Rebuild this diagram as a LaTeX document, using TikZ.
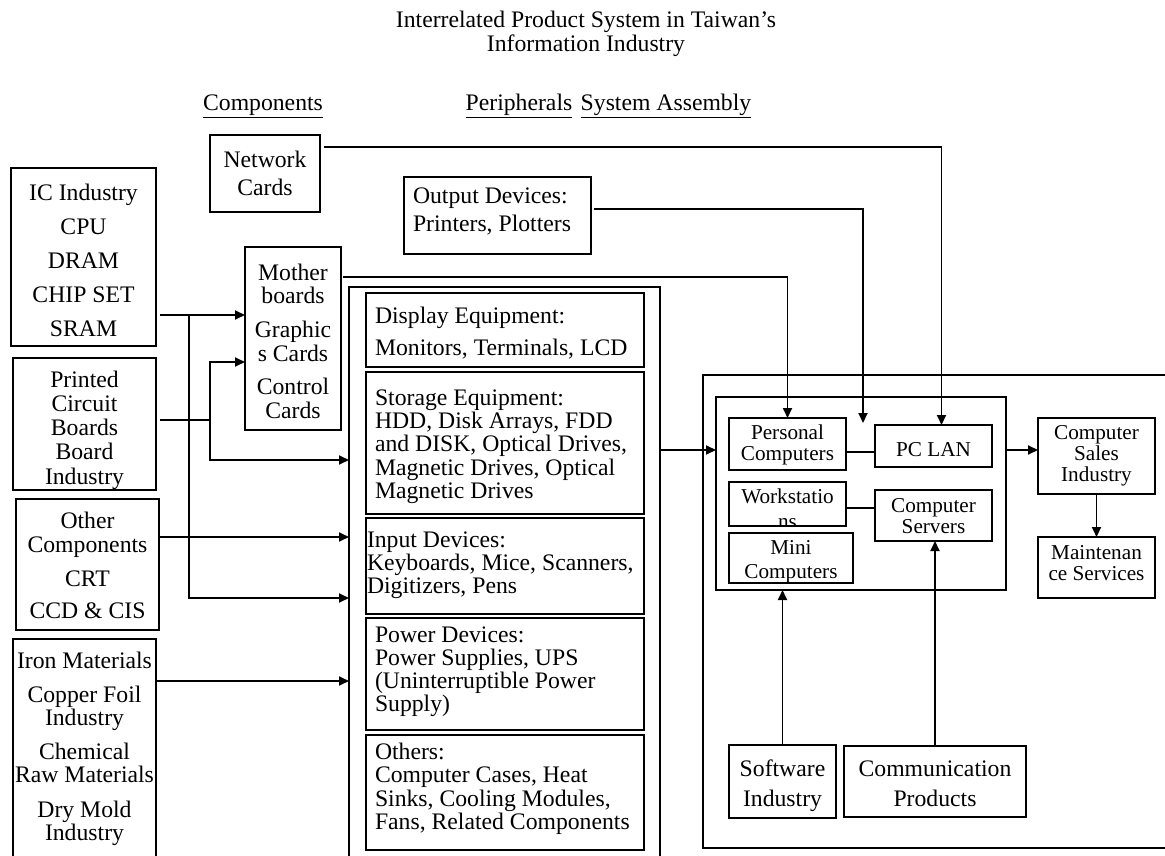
\documentclass[tikz,border=0pt]{standalone}
\usepackage{fontspec}
\setmainfont{Liberation Serif}
\usetikzlibrary{arrows.meta}
% fixed cap height for the first line of a label, so its top edge is predictable
\newcommand\capht{\rule{0pt}{0.72em}}
\begin{document}
\begin{tikzpicture}[x=1pt,y=-1pt,
  box/.style={draw, line width=1.8pt, rectangle, inner sep=0pt, outer sep=0pt},
  lbl/.style={inner sep=0pt, outer sep=0pt, align=center, font=\fontsize{23.7}{23.5}\selectfont},
  lbll/.style={lbl, align=left, anchor=north west},
  sml/.style={inner sep=0pt, outer sep=0pt, align=center, font=\fontsize{21.2}{21}\selectfont},
  conn/.style={line width=1.8pt},
  arr/.style={conn, -{Triangle[length=10pt,width=9pt]}}]
\useasboundingbox (0,0) rectangle (1165,856);
\clip (0,0) rectangle (1165,856);
\fill[white] (0,0) rectangle (1165,856);

% title and column headings
\node[lbl, anchor=north, font=\fontsize{23.7}{24}\selectfont] (title) at (586,10)
  {\capht Interrelated Product System in Taiwan’s\\Information Industry};
\node[lbl, anchor=base] (hcomp) at (263,111) {\underline{Components}};
\node[lbl, anchor=base] (hper) at (519,111) {\underline{Peripherals}};
\node[lbl, anchor=base] (hsys) at (666,111) {\underline{System Assembly}};

% components column
\node[box, minimum width=110, minimum height=77] (net) at (265,173.5) {};
\node[box, minimum width=145, minimum height=178] (ic) at (83.5,257) {};
\node[box, minimum width=143, minimum height=132] (pcb) at (84.5,424) {};
\node[box, minimum width=143, minimum height=131] (oth) at (87.5,564.5) {};
\node[box, minimum width=143, minimum height=219] (iron) at (84.5,748.5) {};
\node[box, minimum width=96, minimum height=183] (mb) at (293,338.5) {};

\node[lbl, anchor=north, font=\fontsize{23.7}{28}\selectfont] (net-t) at (265,150) {\capht Network\\Cards};
\node[lbl, anchor=north, font=\fontsize{23.7}{34}\selectfont] (ic-t) at (83.5,183)
  {\capht IC Industry\\CPU\\DRAM\\CHIP SET\\SRAM};
\begin{scope}
  \clip (pcb.north west) rectangle (pcb.south east);
  \node[lbl, anchor=north, font=\fontsize{23.7}{24.3}\selectfont] (pcb-t) at (84.5,370)
    {\capht Printed\\Circuit\\Boards\\Board\\Industry};
\end{scope}
\node[lbl, anchor=north, font=\fontsize{23.7}{24}\selectfont] (oth-t) at (87.5,511)
  {\capht Other\\Components\\[10pt]CRT\\[8pt]CCD \& CIS};
\node[lbl, anchor=north] (iron-t) at (84.5,651)
  {\capht Iron Materials\\[10.5pt]Copper Foil\\Industry\\[10pt]Chemical\\Raw Materials\\[11pt]Dry Mold\\Industry};
\node[lbl, anchor=north] (mb-t) at (293,263)
  {\capht Mother\\boards\\[10.5pt]Graphic\\s Cards\\[10pt]Control\\Cards};

% peripherals column
\node[box, minimum width=187, minimum height=77] (out) at (497.5,215.5) {};
\node[box, minimum width=311, minimum height=583] (per) at (504.5,578.5) {};
\node[box, minimum width=278, minimum height=74] (disp) at (505,330) {};
\node[box, minimum width=278, minimum height=142] (stor) at (505,443) {};
\node[box, minimum width=278, minimum height=96] (inp) at (505,566) {};
\node[box, minimum width=278, minimum height=112] (pow) at (505,674) {};
\node[box, minimum width=278, minimum height=115] (oths) at (505,792.5) {};

\node[lbll, font=\fontsize{23.7}{28}\selectfont] (out-t) at (413,186) {\capht Output Devices:\\Printers, Plotters};
\node[lbll, font=\fontsize{23.7}{32}\selectfont] (disp-t) at (375,306) {\capht Display Equipment:\\Monitors, Terminals, LCD};
\node[lbll, font=\fontsize{23.7}{23.4}\selectfont] (stor-t) at (375,388)
  {\capht Storage Equipment:\\HDD, Disk Arrays, FDD\\and DISK, Optical Drives,\\Magnetic Drives, Optical\\Magnetic Drives};
\node[lbll, font=\fontsize{23.7}{23.4}\selectfont] (inp-t) at (367,530)
  {\capht Input Devices:\\Keyboards, Mice, Scanners,\\Digitizers, Pens};
\node[lbll, font=\fontsize{23.7}{23.2}\selectfont] (pow-t) at (375,625)
  {\capht Power Devices:\\Power Supplies, UPS\\(Uninterruptible Power\\Supply)};
\node[lbll, font=\fontsize{23.7}{23.6}\selectfont] (oths-t) at (375,742)
  {\capht Others:\\Computer Cases, Heat\\Sinks, Cooling Modules,\\Fans, Related Components};

% system assembly column
\node[box, minimum width=472, minimum height=473] (sys) at (939,611.5) {};
\node[box, minimum width=290, minimum height=193] (inner) at (861,493.5) {};
\node[box, minimum width=117, minimum height=52] (pc) at (787.5,444) {};
\node[box, minimum width=117, minimum height=42] (lan) at (933.5,446) {};
\node[box, minimum width=117, minimum height=44] (ws) at (787.5,504) {};
\node[box, minimum width=117, minimum height=51] (srv) at (933.5,515.5) {};
\node[box, minimum width=124, minimum height=50] (mini) at (791,558) {};
\node[box, minimum width=117, minimum height=76] (sales) at (1096.5,456) {};
\node[box, minimum width=117, minimum height=61] (maint) at (1096.5,567.5) {};
\node[box, minimum width=107, minimum height=73] (soft) at (782.5,781.5) {};
\node[box, minimum width=182, minimum height=71] (comm) at (935,781.5) {};

\node[sml, anchor=north] (pc-t) at (787.5,424.7) {\capht Personal\\Computers};
\node[sml, anchor=base] (lan-t) at (933.5,456.7) {PC LAN};
\begin{scope}
  \clip (ws.north west) rectangle (ws.south east);
  \node[sml, anchor=north, font=\fontsize{21.2}{24.5}\selectfont] (ws-t) at (787.5,488.7) {\capht Workstatio\\ns};
\end{scope}
\node[sml, anchor=north] (srv-t) at (933.5,497.4) {\capht Computer\\Servers};
\begin{scope}
  \clip (mini.north west) rectangle (mini.south east);
  \node[sml, anchor=north, font=\fontsize{21.2}{24}\selectfont] (mini-t) at (791,539.7) {\capht Mini\\Computers};
\end{scope}
\node[sml, anchor=north] (sales-t) at (1096.5,424) {\capht Computer\\Sales\\Industry};
\node[sml, anchor=north] (maint-t) at (1096.5,544) {\capht Maintenan\\ce Services};
\node[lbl, anchor=north, font=\fontsize{23.7}{30}\selectfont] (soft-t) at (782.5,759.6) {\capht Software\\Industry};
\node[lbl, anchor=north, font=\fontsize{23.7}{30}\selectfont] (comm-t) at (935,759.6) {\capht Communication\\Products};

% connectors
\coordinate (flow) at (0,450);
\coordinate (prn) at (863,423);
\draw[arr] ([shift={(4,12)}]net.north east) -| ([shift={(8,0)}]lan.north);
\draw[arr] ([shift={(3,32)}]out.north east) -| (prn);
\draw[arr] ([shift={(2,30)}]mb.north east) -| (pc.north);

\coordinate (icA) at ([shift={(4,-31)}]ic.south east);
\coordinate (icB) at ([shift={(29,0)}]icA);
\coordinate (icC) at (189,598);
\draw[arr] (icA) -- (icA -| mb.west);
\draw[arr] (icB) -- (icC) -- (icC -| per.west);

\coordinate (pcA) at (160,420);
\coordinate (pcB) at (210,420);
\coordinate (pcUp) at (210,362);
\coordinate (pcDn) at (210,460);
\draw[conn] (pcA) -- (pcB);
\draw[arr] (pcB) -- (pcUp) -- (pcUp -| mb.west);
\draw[arr] (pcB) -- (pcDn) -- (pcDn -| per.west);

\coordinate (othA) at ([shift={(1,-27.5)}]oth.east);
\draw[arr] (othA) -- (othA -| per.west);
\coordinate (ironA) at ([shift={(0,-67.5)}]iron.east);
\draw[arr] (ironA) -- (ironA -| per.west);

\draw[arr] (per.east |- flow) -- (inner.west |- flow);
\draw[arr] (inner.east |- flow) -- (sales.west |- flow);
\draw[arr] (sales.south) -- (maint.north);
\draw[arr] (soft.north) -- (soft.north |- inner.south);
\draw[arr] (comm.north) -- (comm.north |- srv.south);
\draw[conn] ([shift={(0,8)}]pc.east) -- ([shift={(0,8)}]pc.east -| lan.west);
\draw[conn] ([shift={(0,4)}]ws.east) -- ([shift={(0,4)}]ws.east -| srv.west);
\end{tikzpicture}
\end{document}
